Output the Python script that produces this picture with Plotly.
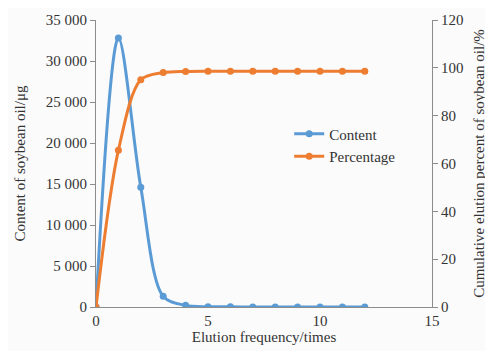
import plotly.graph_objects as go

elution = [0, 1, 2, 3, 4, 5, 6, 7, 8, 9, 10, 11, 12]
content = [0, 32800, 14600, 1300, 200, 30, 20, 10, 10, 10, 10, 10, 10]
percentage = [0, 65.5, 95.0, 98.0, 98.5, 98.6, 98.6, 98.6, 98.6, 98.6, 98.6, 98.6, 98.6]

y_left_ticks = [0, 5000, 10000, 15000, 20000, 25000, 30000, 35000]
y_right_ticks = [0, 20, 40, 60, 80, 100, 120]
x_ticks = [0, 5, 10, 15]

blue = "#5b9bd5"
orange = "#ed7d31"
font_family = "Liberation Serif"

fig = go.Figure()
fig.add_trace(go.Scatter(
    x=elution, y=content, name="Content", mode="lines+markers",
    line=dict(color=blue, width=3, shape="spline", smoothing=0.9),
    marker=dict(size=7, color=blue), yaxis="y",
))
fig.add_trace(go.Scatter(
    x=elution, y=percentage, name="Percentage", mode="lines+markers",
    line=dict(color=orange, width=3, shape="spline", smoothing=0.9),
    marker=dict(size=7, color=orange), yaxis="y2",
))

axis_common = dict(
    showgrid=False, zeroline=False, showline=True, linecolor="#8c8c8c", linewidth=1,
    tickcolor="#8c8c8c", automargin=False,
    tickfont=dict(size=15, color="#333333", family=font_family),
)

fig.update_layout(
    width=485, height=343,
    margin=dict(l=88, r=61, t=12, b=44),
    paper_bgcolor="#fbfbfb", plot_bgcolor="#fbfbfb",
    font=dict(family=font_family, color="#333333", size=15),
    separators=". ",
    xaxis=dict(**axis_common, range=[0, 15], tickvals=x_ticks, ticks="",
               title=dict(text="Elution frequency/times", font=dict(size=15, family=font_family), standoff=2)),
    yaxis=dict(**axis_common, range=[0, 35000], tickvals=y_left_ticks, tickformat=",d",
               ticks="outside", ticklen=5,
               title=dict(text="Content of soybean oil/μg", font=dict(size=15, family=font_family), standoff=16)),
    yaxis2=dict(**axis_common, range=[0, 120], tickvals=y_right_ticks, overlaying="y",
                side="right", anchor="x", ticks="outside", ticklen=5,
                title=dict(text="Cumulative elution percent of soybean oil/%", font=dict(size=15, family=font_family), standoff=10)),
    legend=dict(x=0.575, y=0.66, xanchor="left", yanchor="top",
                bgcolor="rgba(0,0,0,0)", font=dict(size=15, family=font_family), tracegroupgap=4),
    showlegend=True,
)

fig.write_html("out.html")
